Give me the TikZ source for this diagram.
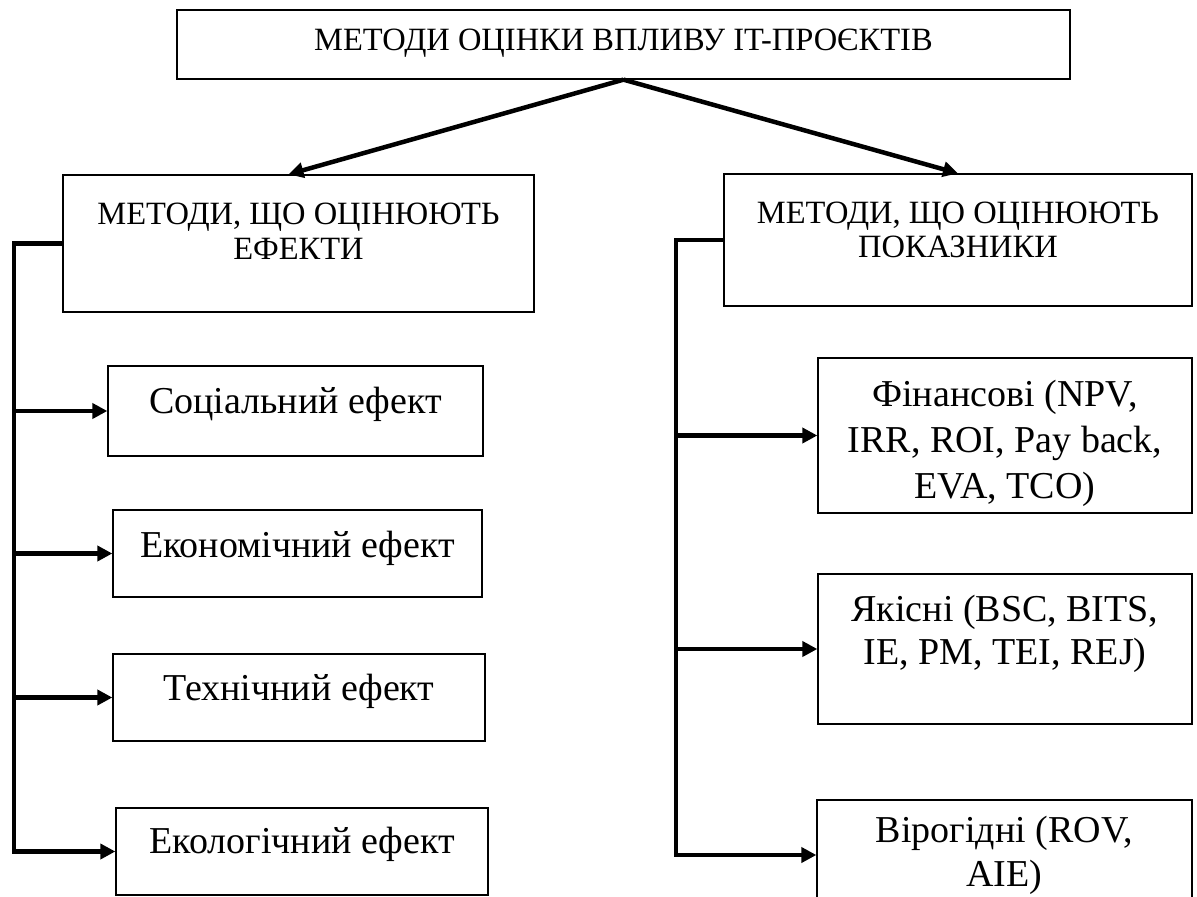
\documentclass[tikz,border=0pt]{standalone}
\usepackage{fontspec}
\setmainfont{Liberation Serif}
\usetikzlibrary{arrows.meta}
\tikzset{
  box/.style={draw, line width=1.3pt, inner sep=0pt},
  conn/.style={line width=4.5pt, line join=miter, -{Triangle[length=15pt,width=15pt]}},
  headtxt/.style={anchor=base, inner sep=0pt, font=\fontsize{32.5}{38}\selectfont},
  itemtxt/.style={anchor=base, inner sep=0pt, font=\fontsize{38}{44}\selectfont},
}
\begin{document}
\begin{tikzpicture}[x=1pt,y=-1pt]
\useasboundingbox (0,0) rectangle (1197,897);
\clip (0,0) rectangle (1197,897);

% boxes
\node[box, minimum width=893pt, minimum height=69pt]  (top)  at (623.5,44.5) {};
\node[box, minimum width=471pt, minimum height=137pt] (eff)  at (298.5,243.5) {};
\node[box, minimum width=468pt, minimum height=132pt] (ind)  at (958,240) {};
\node[box, minimum width=375pt, minimum height=90pt]  (soc)  at (295.5,411) {};
\node[box, minimum width=369pt, minimum height=87pt]  (econ) at (297.5,553.5) {};
\node[box, minimum width=372pt, minimum height=87pt]  (tech) at (299,697.5) {};
\node[box, minimum width=372pt, minimum height=87pt]  (eco)  at (302,851.5) {};
\node[box, minimum width=374pt, minimum height=155pt] (fin)  at (1005,435.5) {};
\node[box, minimum width=374pt, minimum height=150pt] (yak)  at (1005,649) {};
\node[box, minimum width=375pt, minimum height=110pt] (vir)  at (1004.5,855) {};

% texts
\node[headtxt] (topT)  at (623.5,50) {МЕТОДИ ОЦІНКИ ВПЛИВУ IT-ПРОЄКТІВ};
\node[headtxt] (effT1) at (298.5,224) {МЕТОДИ, ЩО ОЦІНЮЮТЬ};
\node[headtxt] (effT2) at (298.5,259) {ЕФЕКТИ};
\node[headtxt] (indT1) at (958,223) {МЕТОДИ, ЩО ОЦІНЮЮТЬ};
\node[headtxt] (indT2) at (958,257) {ПОКАЗНИКИ};

\node[itemtxt] (socT)  at (295.5,413) {Соціальний ефект};
\node[itemtxt] (econT) at (297.5,557) {Економічний ефект};
\node[itemtxt] (techT) at (299,700) {Технічний ефект};
\node[itemtxt] (ecoT)  at (302,853) {Екологічний ефект};

\node[itemtxt] (finT1) at (1005,406) {Фінансові (NPV,};
\node[itemtxt] (finT2) at (1005,452) {IRR, ROI, Pay back,};
\node[itemtxt] (finT3) at (1005,498) {EVA, TCO)};
\node[itemtxt] (yakT1) at (1005,621) {Якісні (BSC, BITS,};
\node[itemtxt] (yakT2) at (1005,664) {IE, PM, TEI, REJ)};
\node[itemtxt] (virT1) at (1004.5,842) {Вірогідні (ROV,};
\node[itemtxt] (virT2) at (1004.5,886) {AIE)};

% connectors from the title
\draw[conn] (top.south) -- ([xshift=-10pt]eff.north);
\draw[conn] (top.south) -- (ind.north);

% left trunk
\coordinate (lt) at (14,243.5);
\draw[conn] (eff.west) -- (lt) |- (eco.west);
\foreach \b in {soc,econ,tech} \draw[conn] (lt |- \b.west) -- (\b.west);

% right trunk
\coordinate (rt) at (676,240);
\draw[conn] (ind.west) -- (rt) |- (vir.west);
\foreach \b in {fin,yak} \draw[conn] (rt |- \b.west) -- (\b.west);
\end{tikzpicture}
\end{document}
